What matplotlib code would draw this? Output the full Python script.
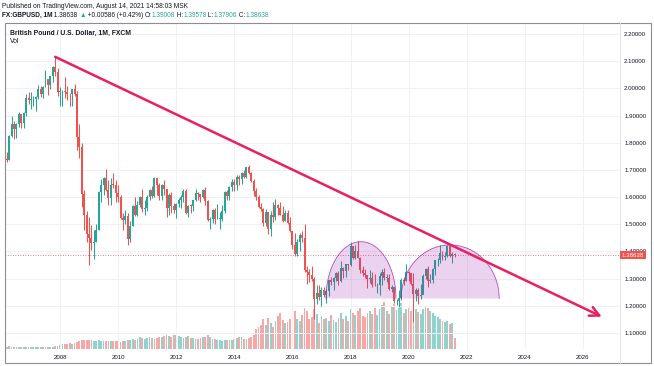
import numpy as np
import pandas as pd
import matplotlib
matplotlib.use("Agg")
import matplotlib.pyplot as plt
from matplotlib.patches import Rectangle, Polygon
from matplotlib.lines import Line2D

plt.rcParams['font.family'] = ['Liberation Sans', 'DejaVu Sans']

# ---------------- data (GBPUSD monthly, FXCM) ----------------
first_month = "2006-02"
last_month = "2021-08"
first_open = 1.7790

closes = [
    1.7380, 1.7370, 1.8250, 1.8690, 1.8500, 1.8690, 1.9040, 1.8720, 1.9090, 1.9650, 1.9580,
    1.9600, 1.9620, 1.9680, 1.9990, 1.9790, 2.0060, 2.0330, 2.0140, 2.0450, 2.0800, 2.0620, 1.9850,
    1.9890, 1.9890, 1.9850, 1.9810, 1.9780, 1.9960, 1.9810, 1.8210, 1.7850, 1.6130, 1.5330, 1.4630,
    1.4500, 1.4320, 1.4330, 1.4800, 1.6170, 1.6460, 1.6710, 1.6260, 1.5980, 1.6460, 1.6450, 1.6150,
    1.5990, 1.5240, 1.5170, 1.5300, 1.4450, 1.4950, 1.5690, 1.5350, 1.5710, 1.6020, 1.5580, 1.5600,
    1.6020, 1.6250, 1.6030, 1.6700, 1.6450, 1.6050, 1.6430, 1.6300, 1.5590, 1.6070, 1.5690, 1.5540,
    1.5760, 1.5900, 1.5990, 1.6240, 1.5420, 1.5690, 1.5680, 1.5880, 1.6150, 1.6130, 1.6020, 1.6250,
    1.5860, 1.5170, 1.5190, 1.5530, 1.5190, 1.5210, 1.5210, 1.5500, 1.6190, 1.6030, 1.6370, 1.6560,
    1.6440, 1.6750, 1.6670, 1.6880, 1.6740, 1.7110, 1.6880, 1.6600, 1.6210, 1.5990, 1.5640, 1.5580,
    1.5050, 1.5440, 1.4830, 1.5350, 1.5280, 1.5710, 1.5610, 1.5350, 1.5130, 1.5430, 1.5050, 1.4740,
    1.4250, 1.3920, 1.4360, 1.4610, 1.4480, 1.3310, 1.3230, 1.3130, 1.2970, 1.2240, 1.2480, 1.2340,
    1.2570, 1.2410, 1.2550, 1.2940, 1.2890, 1.3030, 1.3210, 1.2920, 1.3400, 1.3280, 1.3520, 1.3500,
    1.4190, 1.3770, 1.4020, 1.3770, 1.3300, 1.3200, 1.3120, 1.2970, 1.3030, 1.2770, 1.2750, 1.2750,
    1.3110, 1.3260, 1.3030, 1.3040, 1.2630, 1.2700, 1.2160, 1.2170, 1.2290, 1.2940, 1.2930, 1.3260,
    1.3200, 1.2820, 1.2420, 1.2590, 1.2350, 1.2400, 1.3090, 1.3370, 1.2920, 1.2950, 1.3340, 1.3670,
    1.3700, 1.3930, 1.3780, 1.3830, 1.4210, 1.3830, 1.39008, 1.38638,
]

highs = [
    1.7830, 1.7650, 1.8270, 1.8990, 1.8790, 1.8730, 1.9120, 1.9060, 1.9130, 1.9790, 1.9850,
    1.9860, 1.9720, 1.9720, 2.0130, 2.0070, 2.0100, 2.0660, 2.0330, 2.0460, 2.0830, 2.1160, 2.0760,
    2.0040, 1.9930, 2.0400, 2.0080, 1.9830, 1.9990, 2.0160, 1.9900, 1.8690, 1.7980, 1.6250, 1.5500,
    1.5250, 1.4980, 1.4790, 1.5000, 1.6230, 1.6660, 1.6740, 1.7040, 1.6630, 1.6710, 1.6880, 1.6630,
    1.6460, 1.6080, 1.5400, 1.5530, 1.5430, 1.5130, 1.5720, 1.5990, 1.5870, 1.6040, 1.6300, 1.5900,
    1.6060, 1.6280, 1.6400, 1.6740, 1.6700, 1.6520, 1.6480, 1.6620, 1.6280, 1.6140, 1.6170, 1.5780,
    1.5780, 1.5970, 1.6060, 1.6310, 1.6280, 1.5700, 1.5750, 1.5910, 1.6310, 1.6190, 1.6090, 1.6310,
    1.6380, 1.5880, 1.5270, 1.5580, 1.5600, 1.5750, 1.5440, 1.5720, 1.6230, 1.6260, 1.6390, 1.6660,
    1.6670, 1.6820, 1.6820, 1.6910, 1.7000, 1.7120, 1.7190, 1.6910, 1.6660, 1.6330, 1.6060, 1.5800,
    1.5590, 1.5550, 1.5430, 1.5500, 1.5820, 1.5930, 1.5750, 1.5820, 1.5660, 1.5510, 1.5510, 1.5260,
    1.4750, 1.4670, 1.4450, 1.4670, 1.4770, 1.5020, 1.3480, 1.3360, 1.3450, 1.3060, 1.2770, 1.2780,
    1.2700, 1.2710, 1.2620, 1.2960, 1.3050, 1.3050, 1.3230, 1.3270, 1.3660, 1.3420, 1.3550, 1.3550,
    1.4340, 1.4200, 1.4240, 1.4380, 1.3780, 1.3470, 1.3360, 1.3150, 1.3300, 1.3260, 1.3180, 1.2840,
    1.3220, 1.3350, 1.3380, 1.3170, 1.3180, 1.2780, 1.2710, 1.2250, 1.2580, 1.3010, 1.3010, 1.3520,
    1.3280, 1.3210, 1.3200, 1.2640, 1.2650, 1.2810, 1.3170, 1.3400, 1.3480, 1.3180, 1.3400, 1.3680,
    1.3760, 1.4240, 1.4000, 1.3990, 1.4250, 1.4250, 1.3980, 1.39578,
]

lows = [
    1.7280, 1.7280, 1.7380, 1.8220, 1.8130, 1.8170, 1.8580, 1.8560, 1.8560, 1.9000, 1.9440,
    1.9250, 1.9360, 1.9160, 1.9610, 1.9670, 1.9640, 2.0050, 1.9740, 1.9960, 2.0220, 2.0440, 1.9730,
    1.9340, 1.9360, 1.9660, 1.9580, 1.9360, 1.9360, 1.9710, 1.7740, 1.7450, 1.5640, 1.4800, 1.4350,
    1.3503, 1.4060, 1.3730, 1.4360, 1.4790, 1.5810, 1.6080, 1.6210, 1.5710, 1.5710, 1.6350, 1.5830,
    1.5830, 1.5180, 1.4780, 1.5020, 1.4240, 1.4340, 1.4950, 1.5300, 1.5300, 1.5650, 1.5440, 1.5350,
    1.5490, 1.5900, 1.5980, 1.6000, 1.6090, 1.5910, 1.5910, 1.6070, 1.5270, 1.5330, 1.5420, 1.5410,
    1.5230, 1.5620, 1.5610, 1.5810, 1.5370, 1.5270, 1.5400, 1.5490, 1.5850, 1.5910, 1.5830, 1.5960,
    1.5720, 1.5130, 1.4830, 1.5030, 1.5000, 1.5180, 1.4810, 1.5130, 1.5430, 1.5900, 1.5890, 1.6240,
    1.6220, 1.6250, 1.6460, 1.6480, 1.6690, 1.6700, 1.6850, 1.6540, 1.6050, 1.5880, 1.5590, 1.5480,
    1.4950, 1.4950, 1.4630, 1.4560, 1.5080, 1.5170, 1.5330, 1.5330, 1.5100, 1.5110, 1.5020, 1.4710,
    1.4080, 1.3840, 1.3840, 1.4000, 1.4330, 1.3230, 1.2800, 1.2860, 1.2910, 1.1500, 1.2080, 1.2200,
    1.1990, 1.2340, 1.2110, 1.2370, 1.2770, 1.2590, 1.2930, 1.2770, 1.2860, 1.3030, 1.3060, 1.3300,
    1.3480, 1.3710, 1.3710, 1.3750, 1.3200, 1.3100, 1.3010, 1.2660, 1.2850, 1.2690, 1.2730, 1.2480,
    1.2400, 1.2780, 1.2960, 1.2870, 1.2600, 1.2510, 1.2120, 1.2020, 1.1960, 1.2200, 1.2770, 1.2900,
    1.2900, 1.2760, 1.1410, 1.2160, 1.2080, 1.2250, 1.2470, 1.3000, 1.2680, 1.2850, 1.2850, 1.3130,
    1.3450, 1.3570, 1.3670, 1.3670, 1.3800, 1.3790, 1.3570, 1.37906,
]

volumes = [  # relative volume
    3, 2, 3, 2, 2, 2, 2, 2, 2, 2, 2,
    2, 2, 2, 2, 2, 2, 2, 2, 2, 2, 3, 3,
    4, 5, 5, 5, 6, 5, 6, 7, 8, 9, 9, 9,
    9, 9, 8, 8, 9, 8, 8, 8, 8, 8, 8, 8,
    8, 7, 8, 8, 9, 9, 10, 9, 10, 12, 11, 10,
    11, 12, 11, 10, 11, 12, 12, 13, 14, 13, 12, 14,
    14, 13, 12, 11, 12, 13, 11, 11, 10, 10, 11, 12,
    12, 14, 12, 10, 10, 9, 9, 8, 9, 9, 9, 9,
    10, 11, 12, 12, 10, 10, 11, 12, 14, 20, 22, 24,
    30, 24, 31, 26, 22, 28, 33, 36, 29, 26, 27, 30,
    33, 38, 30, 28, 34, 42, 38, 30, 32, 40, 35, 26,
    33, 30, 31, 28, 34, 29, 27, 31, 36, 30, 33, 28,
    40, 36, 34, 38, 41, 33, 32, 36, 38, 35, 41, 34,
    40, 45, 48, 38, 35, 44, 46, 39, 42, 47, 36, 40,
    42, 38, 46, 40, 37, 35, 40, 44, 41, 38, 36, 33,
    32, 30, 28, 27, 28, 25, 26, 11,
]

last_price = 1.38638
price_ticks = [1.1, 1.2, 1.3, 1.4, 1.5, 1.6, 1.7, 1.8, 1.9, 2.0, 2.1, 2.2]
year_ticks = [2008, 2010, 2012, 2014, 2016, 2018, 2020, 2022, 2024, 2026]

# drawings
trend_start = (2007 + 10 / 12, 2.116)
trend_end = (2026.65, 1.160)
arc_base = 1.2269
arcs = [  # (centre year, half width in years, height in price)
    (2018.36, 1.205, 0.209),
    (2021.43, 1.687, 0.197),
]

# ---------------- derived ----------------
months = pd.period_range(first_month, last_month, freq="M")
t = np.array([p.year + (p.month - 1) / 12 for p in months])
closes = np.array(closes)
highs = np.array(highs)
lows = np.array(lows)
opens = np.array([first_open] + list(closes[:-1]))
volumes = np.array(volumes, dtype=float)

GREEN = "#26a69a"
RED = "#ef5350"
up = closes >= opens
ccol = np.where(up, GREEN, RED)

W, H = 654, 366
fig = plt.figure(figsize=(W / 100, H / 100), dpi=100)


def fx(px):
    return px / W


def fy(py):
    return 1 - py / H


L, R, T, B = 4.5, 620, 23, 349
rect = [fx(L), fy(B), fx(R - L), (B - T) / H]

XMIN, XMAX = 2006.089, 2027.277
YMIN, YMAX = 1.0411, 2.2405

# volume layer (under)
vax = fig.add_axes(rect)
vax.bar(t, volumes, width=0.062, color=ccol, alpha=0.5, linewidth=0)
vax.set_xlim(XMIN, XMAX)
vax.set_ylim(0, 330)
vax.axis("off")

# price layer
ax = fig.add_axes(rect)
ax.patch.set_alpha(0)
ax.set_xlim(XMIN, XMAX)
ax.set_ylim(YMIN, YMAX)
for s in ax.spines.values():
    s.set_visible(False)

for yt in price_ticks:
    ax.axhline(yt, color="#f0f1f5", lw=0.7, zorder=0)
for xt in year_ticks:
    ax.axvline(xt, color="#f0f1f5", lw=0.7, zorder=0)

ax.yaxis.tick_right()
ax.set_yticks(price_ticks)
ax.set_yticklabels([f"{v:.5f}" for v in price_ticks])
ax.set_xticks(year_ticks)
ax.set_xticklabels([str(y) for y in year_ticks])
ax.tick_params(axis="y", length=0, pad=3, labelsize=4.4, labelcolor="#131722")
ax.tick_params(axis="x", length=0, pad=4.5, labelsize=4.4, labelcolor="#131722")

# candles
ax.vlines(t, lows, highs, colors=ccol, lw=0.75, zorder=3)
body = np.maximum(np.abs(closes - opens), 0.002)
ax.bar(t, body, bottom=np.minimum(opens, closes), width=0.068, color=ccol,
       linewidth=0, zorder=3)

# last price line
ax.axhline(last_price, color=RED, lw=0.6, ls=(0, (1, 2)), zorder=2)

# arcs (half ellipses)
for cx, hw, hh in arcs:
    th = np.linspace(0, np.pi, 100)
    xs = cx + hw * np.cos(th)
    ys = arc_base + hh * np.sin(th)
    ax.add_patch(Polygon(np.column_stack([xs, ys]), closed=True,
                         facecolor=(156 / 255, 39 / 255, 176 / 255, 0.2),
                         edgecolor="none", zorder=4))
    ax.plot(xs, ys, color="#9c27b0", lw=0.6, alpha=0.8, zorder=4)

# trend line with arrow
ax.annotate("", xy=trend_end, xytext=trend_start,
            arrowprops=dict(arrowstyle="->", color="#e91e63", lw=1.8,
                            mutation_scale=17, shrinkA=0, shrinkB=0),
            zorder=5)

# frame and separators
fig.add_artist(Rectangle((fx(4.5), fy(363)), fx(651 - 4.5), (363 - 23) / H,
                         transform=fig.transFigure, fill=False,
                         edgecolor="#8a8d96", lw=0.8))
fig.add_artist(Line2D([fx(620), fx(620)], [fy(23), fy(363)],
                      transform=fig.transFigure, color="#e0e3eb", lw=0.7))

# last price label
fig.text(fx(622), fy(255.1), f"{last_price:.5f}", fontsize=4.4, color="white",
         va="center", ha="left", zorder=10,
         bbox=dict(boxstyle="square,pad=0.3", facecolor=RED, edgecolor="none"))

# header texts
DARK = "#131722"
fig.text(fx(2), fy(6.5), "Published on TradingView.com, August 14, 2021 14:58:03 MSK",
         fontsize=4.8, color=DARK, va="center", ha="left")

segments = [
    ("FX:GBPUSD, 1M", "bold", DARK),
    (" 1.38638 ", "normal", DARK),
    ("\u25B2", "normal", GREEN),
    (" +0.00586 (+0.42%) ", "normal", DARK),
    ("O:", "normal", DARK),
    ("1.39008", "normal", GREEN),
    (" H:", "normal", DARK),
    ("1.39578", "normal", GREEN),
    (" L:", "normal", DARK),
    ("1.37906", "normal", GREEN),
    (" C:", "normal", DARK),
    ("1.38638", "normal", GREEN),
]
renderer = fig.canvas.get_renderer()
xpos = 2.0
for txt, wt, col in segments:
    tt = fig.text(fx(xpos), fy(15.5), txt, fontsize=4.7, fontweight=wt, color=col,
                  va="center", ha="left")
    bb = tt.get_window_extent(renderer=renderer)
    xpos += bb.width

fig.text(fx(10), fy(33), "British Pound / U.S. Dollar, 1M, FXCM", fontsize=4.9,
         fontweight="bold", color=DARK, va="center", ha="left")
fig.text(fx(10), fy(41.5), "Vol", fontsize=4.9, color=DARK, va="center", ha="left")

fig.savefig("out.png", dpi=100)
